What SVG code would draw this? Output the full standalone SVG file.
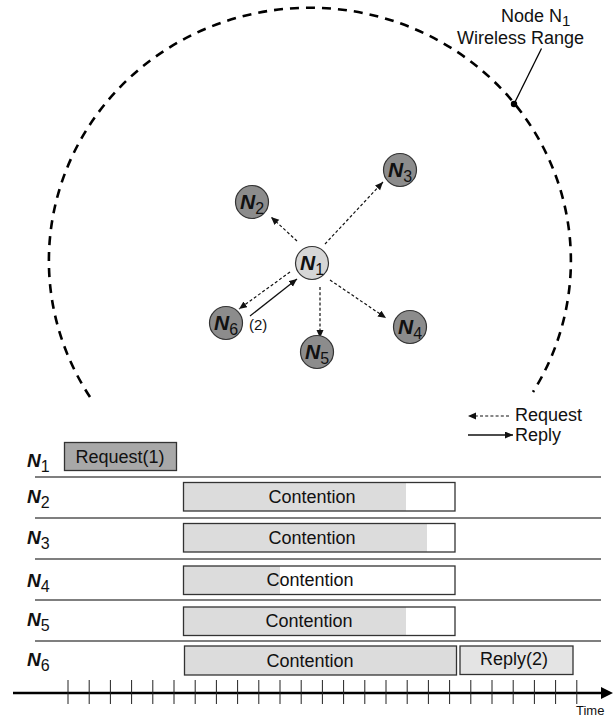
<svg xmlns="http://www.w3.org/2000/svg" width="613" height="717" viewBox="0 0 613 717">
  <style>
    text { font-family: "Liberation Sans", Arial, sans-serif; fill: #111; }
    .t { font-size: 18px; }
    .nb { font-weight: bold; font-style: italic; }
    .node-main { fill: #d6d6d6; stroke: #333; stroke-width: 1.2; }
    .node { fill: #8c8c8c; stroke: #333; stroke-width: 1.2; }
    .req { stroke: #111; stroke-width: 1.2; stroke-dasharray: 3 2.2; fill: none; }
    .rep { stroke: #111; stroke-width: 1.3; fill: none; }
    .sep { stroke: #555; stroke-width: 1.6; }
    .box { stroke: #333; stroke-width: 1.3; }
    .tick { stroke: #222; stroke-width: 1; }
  </style>
  <defs>
    <marker id="ah" markerUnits="userSpaceOnUse" markerWidth="9" markerHeight="8" refX="8" refY="3.5" orient="auto">
      <path d="M0,0 L8,3.5 L0,7 Z" fill="#111"/>
    </marker>
  </defs>

  <rect width="613" height="717" fill="#fff"/>

  <!-- wireless range of node N1 -->
  <g id="range">
    <path d="M 90 397 A 261 253 0 1 1 533 392" fill="none" stroke="#000" stroke-width="2.6" stroke-dasharray="9 7"/>
    <line x1="541.5" y1="48.5" x2="514" y2="104" stroke="#000" stroke-width="1.3"/>
    <circle cx="514" cy="104" r="3.2" fill="#000"/>
    <text class="t" x="501" y="22">Node N<tspan font-size="15" dy="4">1</tspan></text>
    <text class="t" x="457" y="44">Wireless Range</text>
  </g>

  <!-- request / reply connectors -->
  <g id="connectors">
    <line class="req" x1="297" y1="241" x2="271" y2="217" marker-end="url(#ah)"/>
    <line class="req" x1="325" y1="244" x2="383" y2="182" marker-end="url(#ah)"/>
    <line class="req" x1="330" y1="280" x2="386" y2="318" marker-end="url(#ah)"/>
    <line class="req" x1="320" y1="287" x2="320" y2="338" marker-end="url(#ah)"/>
    <line class="req" x1="290" y1="272" x2="239" y2="309" marker-end="url(#ah)"/>
    <line class="rep" x1="250" y1="316" x2="297" y2="279" marker-end="url(#ah)"/>
    <text x="249" y="330" font-size="15">(2)</text>
  </g>

  <!-- nodes -->
  <g id="n1">
    <circle class="node-main" cx="312" cy="263" r="16.5"/>
    <text x="312" y="270" text-anchor="middle"><tspan class="nb" font-size="21">N</tspan><tspan font-size="16" dy="5">1</tspan></text>
  </g>
  <g id="n2">
    <circle class="node" cx="252" cy="202" r="16.5"/>
    <text x="252" y="209" text-anchor="middle"><tspan class="nb" font-size="21">N</tspan><tspan font-size="16" dy="5">2</tspan></text>
  </g>
  <g id="n3">
    <circle class="node" cx="400" cy="170" r="16.5"/>
    <text x="400" y="177" text-anchor="middle"><tspan class="nb" font-size="21">N</tspan><tspan font-size="16" dy="5">3</tspan></text>
  </g>
  <g id="n4">
    <circle class="node" cx="410" cy="327" r="16.5"/>
    <text x="410" y="334" text-anchor="middle"><tspan class="nb" font-size="21">N</tspan><tspan font-size="16" dy="5">4</tspan></text>
  </g>
  <g id="n5">
    <circle class="node" cx="317" cy="352" r="16.5"/>
    <text x="317" y="359" text-anchor="middle"><tspan class="nb" font-size="21">N</tspan><tspan font-size="16" dy="5">5</tspan></text>
  </g>
  <g id="n6">
    <circle class="node" cx="226" cy="323" r="16.5"/>
    <text x="226" y="330" text-anchor="middle"><tspan class="nb" font-size="21">N</tspan><tspan font-size="16" dy="5">6</tspan></text>
  </g>

  <!-- legend -->
  <g id="legend">
    <line class="req" x1="509" y1="416" x2="468" y2="416" marker-end="url(#ah)"/>
    <text class="t" x="515" y="421">Request</text>
    <line class="rep" x1="468" y1="435" x2="513" y2="435" marker-end="url(#ah)"/>
    <text class="t" x="515" y="441">Reply</text>
  </g>

  <!-- timeline rows -->
  <g id="rows">
    <line class="sep" x1="35" y1="477" x2="601" y2="477"/>
    <line class="sep" x1="35" y1="518" x2="601" y2="518"/>
    <line class="sep" x1="35" y1="559" x2="601" y2="559"/>
    <line class="sep" x1="35" y1="600" x2="601" y2="600"/>
    <line class="sep" x1="35" y1="641" x2="601" y2="641"/>
  </g>

  <g id="row-n1">
    <text x="27" y="467"><tspan class="nb" font-size="19">N</tspan><tspan font-size="16" dy="5">1</tspan></text>
    <rect class="box" x="64.5" y="442.5" width="112" height="28" fill="#a8a8a8"/>
    <text class="t" x="120" y="463" text-anchor="middle">Request(1)</text>
  </g>
  <g id="row-n2">
    <text x="27" y="503"><tspan class="nb" font-size="19">N</tspan><tspan font-size="16" dy="5">2</tspan></text>
    <rect x="184" y="482.5" width="222" height="28.5" fill="#dcdcdc"/>
    <rect class="box" x="183.5" y="482.5" width="271.5" height="28.5" fill="none"/>
    <text class="t" x="312" y="503" text-anchor="middle">Contention</text>
  </g>
  <g id="row-n3">
    <text x="27" y="544"><tspan class="nb" font-size="19">N</tspan><tspan font-size="16" dy="5">3</tspan></text>
    <rect x="184" y="523.5" width="243" height="28.5" fill="#dcdcdc"/>
    <rect class="box" x="183.5" y="523.5" width="271.5" height="28.5" fill="none"/>
    <text class="t" x="312" y="544" text-anchor="middle">Contention</text>
  </g>
  <g id="row-n4">
    <text x="27" y="587"><tspan class="nb" font-size="19">N</tspan><tspan font-size="16" dy="5">4</tspan></text>
    <rect x="184" y="566" width="96" height="28.5" fill="#dcdcdc"/>
    <rect class="box" x="183.5" y="566" width="271.5" height="28.5" fill="none"/>
    <text class="t" x="310" y="586" text-anchor="middle">Contention</text>
  </g>
  <g id="row-n5">
    <text x="27" y="626"><tspan class="nb" font-size="19">N</tspan><tspan font-size="16" dy="5">5</tspan></text>
    <rect x="184" y="607" width="222" height="28.5" fill="#dcdcdc"/>
    <rect class="box" x="183.5" y="607" width="271.5" height="28.5" fill="none"/>
    <text class="t" x="309" y="627" text-anchor="middle">Contention</text>
  </g>
  <g id="row-n6">
    <text x="27" y="666"><tspan class="nb" font-size="19">N</tspan><tspan font-size="16" dy="5">6</tspan></text>
    <rect class="box" x="184.5" y="646" width="272" height="29" fill="#dcdcdc"/>
    <text class="t" x="310" y="667" text-anchor="middle">Contention</text>
    <rect class="box" x="460" y="646" width="113" height="28.5" fill="#e4e4e4"/>
    <text class="t" x="514" y="665" text-anchor="middle">Reply(2)</text>
  </g>

  <!-- time axis -->
  <g id="time-axis">
    <line x1="13" y1="693" x2="604" y2="693" stroke="#000" stroke-width="2.6"/>
    <path d="M613,693 L601,687 L601,699 Z" fill="#000"/>
    <path class="tick" d="M68,680V704 M89.2,680V704 M110.4,680V704 M131.6,680V704 M152.8,680V704 M174,680V704 M195.2,680V704 M216.4,680V704 M237.6,680V704 M258.8,680V704 M280,680V704 M301.2,680V704 M322.4,680V704 M343.6,680V704 M364.8,680V704 M386,680V704 M407.2,680V704 M428.4,680V704 M449.6,680V704 M470.8,680V704 M492,680V704 M513.2,680V704 M534.4,680V704 M555.6,680V704 M576.8,680V704"/>
    <text x="576" y="715" font-size="13">Time</text>
  </g>
</svg>
